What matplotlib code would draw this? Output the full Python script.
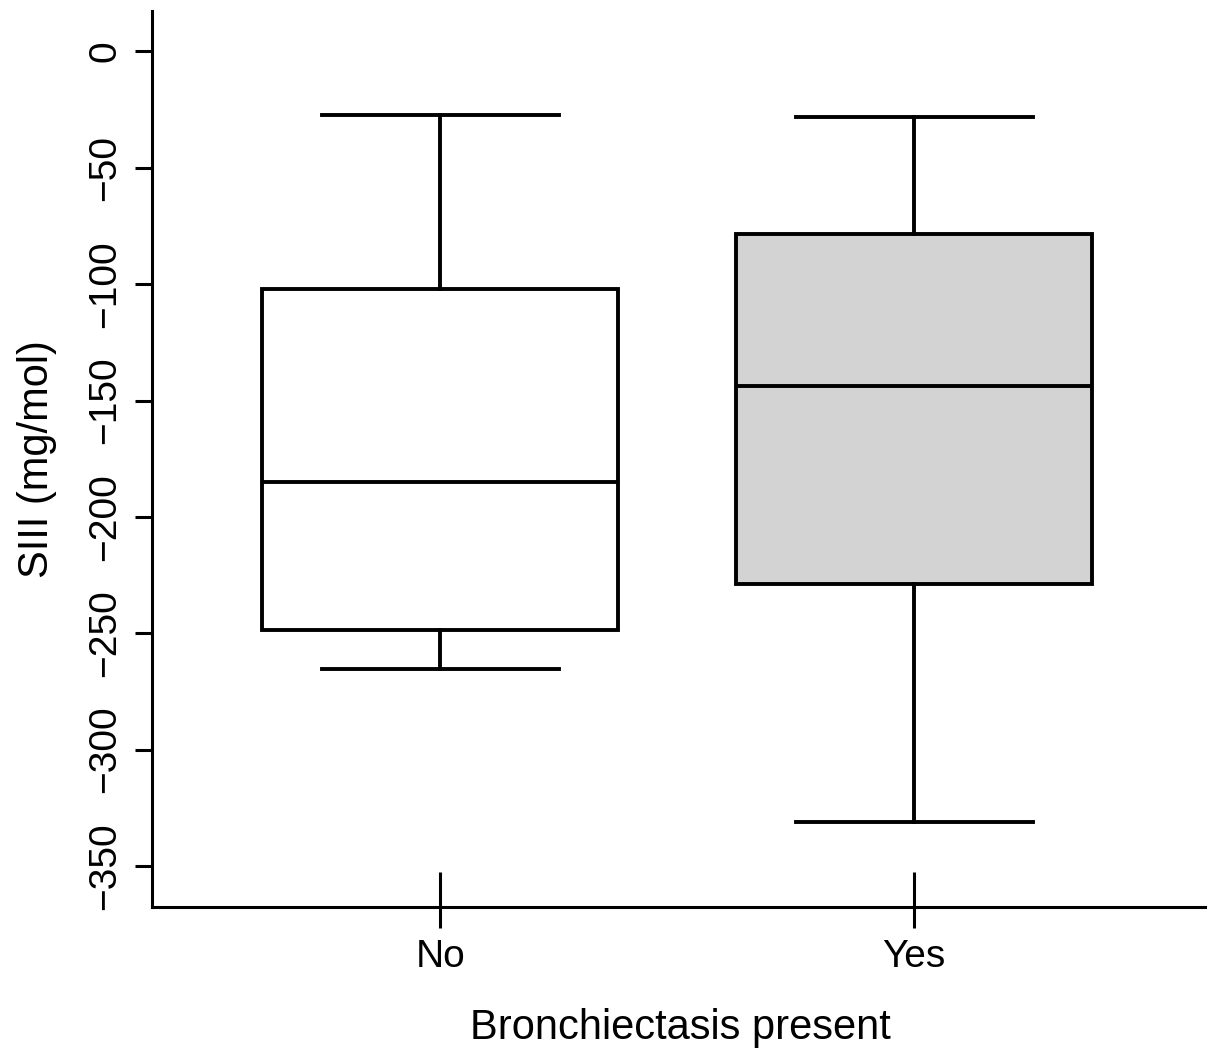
import matplotlib
matplotlib.use("Agg")
import matplotlib.pyplot as plt

plt.rcParams['font.family'] = ['Liberation Sans', 'DejaVu Sans']

categories = ["No", "Yes"]
whisker_low = [-265.3, -331.1]
q1 = [-248.6, -228.8]
median = [-185.0, -143.7]
q3 = [-102.1, -78.4]
whisker_high = [-27.3, -28.1]
fill_colors = ["white", "#d3d3d3"]
yticks = [0, -50, -100, -150, -200, -250, -300, -350]

fig = plt.figure(figsize=(12.13, 10.55), dpi=100)
ax = fig.add_axes([152/1213, 1 - 907/1055, (1205-152)/1213, (907-11)/1055])

stats = []
for i, c in enumerate(categories):
    stats.append(dict(label=c, whislo=whisker_low[i], q1=q1[i], med=median[i],
                      q3=q3[i], whishi=whisker_high[i], fliers=[]))

positions = [1, 2]
lw = 2.8
bp = ax.bxp(stats, positions=positions, widths=0.75, patch_artist=True,
            showfliers=False,
            boxprops=dict(linewidth=lw, edgecolor='black'),
            medianprops=dict(color='black', linewidth=lw, solid_capstyle='butt'),
            whiskerprops=dict(color='black', linewidth=lw),
            capprops=dict(color='black', linewidth=lw),
            capwidths=0.5)
for patch, col in zip(bp['boxes'], fill_colors):
    patch.set_facecolor(col)

ax.set_xlim(0.392, 2.614)
ax.set_ylim(-367.6, 17.4)

for s in ['top', 'right']:
    ax.spines[s].set_visible(False)
for s in ['left', 'bottom']:
    ax.spines[s].set_linewidth(2.2)

ax.set_yticks(yticks)
ax.set_yticklabels([f"\u2212{abs(v)}" if v < 0 else str(v) for v in yticks],
                   rotation=90, va='center')
ax.tick_params(axis='y', direction='out', length=12.5, width=2.2, labelsize=28, pad=8)

ax.set_xticks(positions)
ax.set_xticklabels(categories)
ax.tick_params(axis='x', which='major', direction='in', length=25, width=2.2,
               labelsize=28, pad=23)

# outward part of the x ticks (below the axis line)
sec = ax.secondary_xaxis('bottom')
sec.set_xticks(positions)
sec.set_xticklabels(["", ""])
sec.tick_params(axis='x', direction='out', length=15, width=2.2)
sec.spines['bottom'].set_visible(False)

ax.set_xlabel("Bronchiectasis present", fontsize=30, labelpad=24)
ax.set_ylabel("SIII (mg/mol)", fontsize=30, labelpad=22)
ax.xaxis.label.set_position((0.502, 0))

fig.savefig("out.png", dpi=100)
